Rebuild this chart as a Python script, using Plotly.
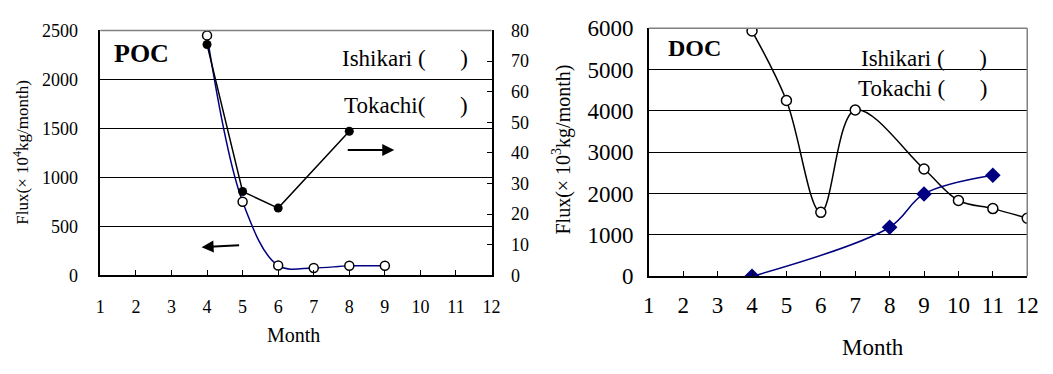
import plotly.graph_objects as go

# POC panel (left): monthly flux
poc_months_ishikari = [4, 5, 6, 7, 8, 9]
poc_ishikari = [2450, 752, 101, 76, 98, 98]          # left axis, x10^4 kg/month
poc_months_tokachi = [4, 5, 6, 8]
poc_tokachi = [75.4, 27.4, 22.0, 47.1]               # right axis

# DOC panel (right): monthly flux
doc_months_ishikari = [4, 5, 6, 7, 9, 10, 11, 12]
doc_ishikari = [5930, 4250, 1548, 4022, 2594, 1834, 1638, 1405]
doc_months_tokachi = [4, 8, 9, 11]
doc_tokachi = [0, 1187, 1992, 2443]

month_ticks = list(range(1, 13))
poc_left_ticks = [0, 500, 1000, 1500, 2000, 2500]
poc_right_ticks = [0, 10, 20, 30, 40, 50, 60, 70, 80]
doc_ticks = [0, 1000, 2000, 3000, 4000, 5000, 6000]

SERIF = "Liberation Serif"
NAVY = "#000080"
W, H = 1053, 374

fig = go.Figure()

fig.add_trace(go.Scatter(
    x=poc_months_ishikari, y=poc_ishikari, xaxis="x", yaxis="y",
    mode="lines+markers", line=dict(color=NAVY, width=1.5, shape="spline", smoothing=1.0),
    marker=dict(symbol="circle", size=9, color="white", line=dict(color="black", width=1.5)),
    showlegend=False))
fig.add_trace(go.Scatter(
    x=poc_months_tokachi, y=poc_tokachi, xaxis="x", yaxis="y2",
    mode="lines+markers", line=dict(color="black", width=1.5),
    marker=dict(symbol="circle", size=9, color="black"),
    showlegend=False))
fig.add_trace(go.Scatter(
    x=doc_months_ishikari, y=doc_ishikari, xaxis="x2", yaxis="y3",
    mode="lines+markers", line=dict(color="black", width=1.5, shape="spline", smoothing=1.0),
    marker=dict(symbol="circle", size=10, color="white", line=dict(color="black", width=1.5)),
    showlegend=False))
fig.add_trace(go.Scatter(
    x=doc_months_tokachi, y=doc_tokachi, xaxis="x2", yaxis="y3",
    mode="lines+markers", line=dict(color=NAVY, width=1.5, shape="spline", smoothing=1.0),
    marker=dict(symbol="diamond", size=12, color=NAVY),
    showlegend=False))


def dom_x(a, b):
    return [a / W, b / W]


def dom_y(top, bottom):
    return [(H - bottom) / H, (H - top) / H]


tickfont_poc = dict(family=SERIF, size=18, color="black")
tickfont_doc = dict(family=SERIF, size=23, color="black")

fig.update_layout(
    width=W, height=H, margin=dict(l=0, r=0, t=0, b=0),
    paper_bgcolor="white", plot_bgcolor="white",
    font=dict(family=SERIF, color="black"),
    xaxis=dict(domain=dom_x(96, 494), range=[1, 12], tickvals=month_ticks,
               ticks="inside", ticklen=6, tickcolor="black", showline=True,
               linecolor="black", linewidth=1.5, showgrid=False, zeroline=False,
               tickfont=tickfont_poc, ticklabelstandoff=14, anchor="y"),
    yaxis=dict(domain=dom_y(19.8, 282.3), range=[0, 2500], tickvals=poc_left_ticks,
               ticks="", showline=True, linecolor="black", linewidth=1.5,
               showgrid=True, gridcolor="black", gridwidth=1, zeroline=False,
               tickfont=tickfont_poc, ticklabelstandoff=17, anchor="x"),
    yaxis2=dict(domain=dom_y(19.8, 282.3), range=[0, 80], tickvals=poc_right_ticks,
                overlaying="y", side="right", anchor="x",
                ticks="inside", ticklen=5, tickcolor="black", showline=True,
                linecolor="black", linewidth=1.5, showgrid=False, zeroline=False,
                tickfont=tickfont_poc, ticklabelstandoff=14),
    xaxis2=dict(domain=dom_x(654, 1039), range=[1, 12], tickvals=month_ticks,
                ticks="inside", ticklen=6, tickcolor="black", showline=True,
                linecolor="black", linewidth=1.5, showgrid=False, zeroline=False,
                tickfont=tickfont_doc, ticklabelstandoff=7, anchor="y3"),
    yaxis3=dict(domain=dom_y(17.3, 283.3), range=[0, 6000], tickvals=doc_ticks,
                ticks="", showline=True, linecolor="black", linewidth=1.5,
                showgrid=True, gridcolor="black", gridwidth=1, zeroline=False,
                tickfont=tickfont_doc, ticklabelstandoff=9, anchor="x2"),
)

# frame pieces: top border of POC, top and right border of DOC
shapes = [
    dict(type="line", xref="x domain", yref="y domain", x0=0, x1=1, y0=1, y1=1,
         line=dict(color="#808080", width=1.5)),
    dict(type="line", xref="x2 domain", yref="y3 domain", x0=0, x1=1, y0=1, y1=1,
         line=dict(color="#808080", width=1.5)),
    dict(type="line", xref="x2 domain", yref="y3 domain", x0=1, x1=1, y0=0, y1=1,
         line=dict(color="#808080", width=1.5)),
]
fig.update_layout(shapes=shapes)


def txt(x, y, text, size, bold=False, xanchor="center", angle=0):
    return dict(x=x / W, y=(H - y) / H, xref="paper", yref="paper", text=text,
                showarrow=False, xanchor=xanchor, yanchor="middle", textangle=angle,
                font=dict(family=SERIF, size=size, color="black",
                          weight="bold" if bold else "normal"))


def arrow(x_head, y_head, x_tail, y_tail):
    return dict(x=x_head / W, y=(H - y_head) / H, xref="paper", yref="paper",
                ax=x_tail - x_head, ay=y_tail - y_head, axref="pixel", ayref="pixel",
                text="", showarrow=True, arrowhead=2, arrowsize=1.2, arrowwidth=2,
                arrowcolor="black")


annotations = [
    txt(138, 44, "POC", 26, bold=True),
    txt(700, 39, "DOC", 24, bold=True),
    txt(472, 50, "Ishikari (      )", 23, xanchor="right"),
    txt(472, 100, "Tokachi(      )", 23, xanchor="right"),
    txt(1000, 50, "Ishikari (      )", 23, xanchor="right"),
    txt(1000, 82, "Tokachi (      )", 23, xanchor="right"),
    txt(293, 346, "Month", 20),
    txt(882, 360, "Month", 23),
    txt(15, 151, "Flux(× 10<sup>4</sup>kg/month)", 17, angle=-90),
    txt(565, 147, "Flux(× 10<sup>3</sup>kg/month)", 20, angle=-90),
    # axis direction arrows
    arrow(395, 148, 347, 148),
    arrow(199, 252, 238, 250),
]
fig.update_layout(annotations=annotations)

fig.write_html("out.html")
